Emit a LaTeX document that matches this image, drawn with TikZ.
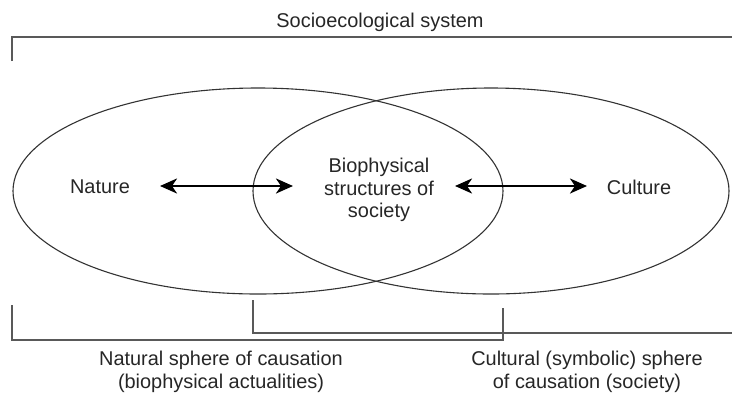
\documentclass[tikz,border=0pt]{standalone}
\usepackage{fontspec}
\setmainfont{Liberation Sans}
\usetikzlibrary{arrows.meta}
\begin{document}
\begin{tikzpicture}[x=1bp,y=-1bp,
  lbl/.style={inner sep=0pt, font=\fontsize{20}{22.5}\selectfont, text=black!85, align=center},
  oval/.style={draw=black!80, line width=1.1bp},
  bracket/.style={draw=black!65, line width=1.4bp},
  biarrow/.style={draw=black, line width=2.6bp, {Stealth[length=17bp,width=15bp,inset=5bp]}-{Stealth[length=17bp,width=15bp,inset=5bp]}}
]
\useasboundingbox (0,0) rectangle (732,396);
% ellipses
\draw[oval] (258,191) ellipse [x radius=245, y radius=103];
\draw[oval] (491,191) ellipse [x radius=238, y radius=103];
% top bracket
\node[lbl] (title) at (380,22) {Socioecological system};
\coordinate (t1) at (12,61);
\coordinate (t2) at (12,37);
\coordinate (t3) at (732,37);
\draw[bracket] (t1) -- (t2) -- (t3);
% bottom brackets
\coordinate (b1) at (12,305);
\coordinate (b2) at (12,340);
\coordinate (b3) at (503,340);
\coordinate (b4) at (503,308);
\draw[bracket] (b1) -- (b2) -- (b3) -- (b4);
\coordinate (c1) at (253,300);
\coordinate (c2) at (253,333);
\coordinate (c3) at (732,333);
\draw[bracket] (c1) -- (c2) -- (c3);
% labels
\node[lbl] (nature) at (100,187) {Nature};
\node[lbl] (culture) at (639,187) {Culture};
\node[lbl] (bio) at (379,190) {Biophysical\\structures of\\society};
\node[lbl] (natsph) at (221,372) {Natural sphere of causation\\(biophysical actualities)};
\node[lbl] (cultsph) at (587,372) {Cultural (symbolic) sphere\\of causation (society)};
% arrows
\coordinate (a1) at (160,186);
\coordinate (a2) at (293,186);
\coordinate (a3) at (455,186);
\coordinate (a4) at (587,186);
\draw[biarrow] (a1) -- (a2);
\draw[biarrow] (a3) -- (a4);
\end{tikzpicture}
\end{document}
